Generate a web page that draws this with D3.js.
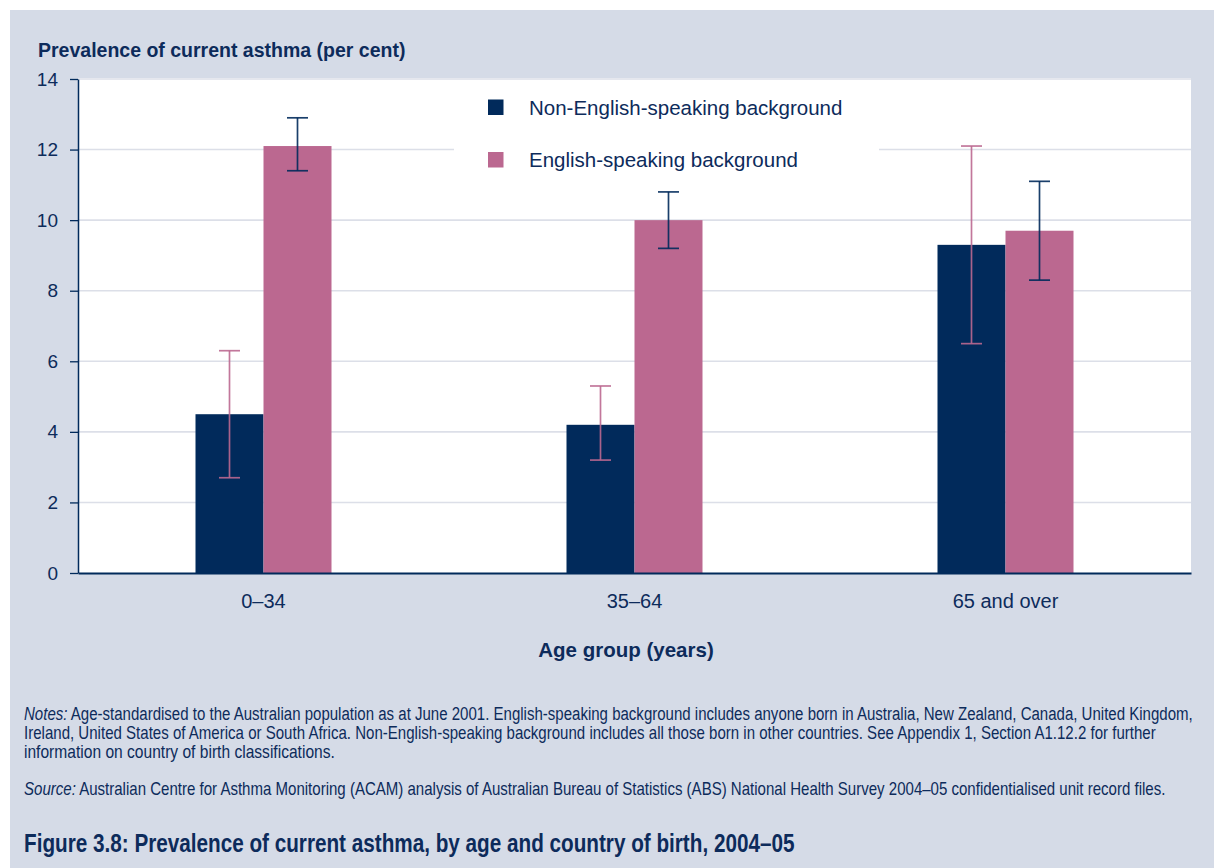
<!DOCTYPE html>
<html>
<head>
<meta charset="utf-8">
<script src="https://cdn.jsdelivr.net/npm/d3@7"></script>
<style>
  html, body { margin: 0; padding: 0; background: #ffffff; }
  svg { display: block; }
</style>
</head>
<body>
<svg id="chart" width="1214" height="868"></svg>
<script>
// Prevalence of current asthma by age group and country of birth, 2004–05
const categories = ["0–34", "35–64", "65 and over"];
const seriesNames = ["Non-English-speaking background", "English-speaking background"];
const nesbValues = [4.5, 4.2, 9.3];
const nesbLower  = [2.7, 3.2, 6.5];
const nesbUpper  = [6.3, 5.3, 12.1];
const esbValues  = [12.1, 10.0, 9.7];
const esbLower   = [11.4, 9.2, 8.3];
const esbUpper   = [12.9, 10.8, 11.1];
const yTicks = [0, 2, 4, 6, 8, 10, 12, 14];

const navy = "#012a5b";
const pink = "#bb6890";
const textCol = "#0d2b5b";
const panel = "#d5dbe7";
const gridCol = "#dcdfe8";
const sans = "'Liberation Sans', Arial, sans-serif";

const svg = d3.select("#chart");
const W = 1214, H = 868;
const plot = { left: 78, right: 1191, top: 79, bottom: 573 };

// background panel
svg.append("rect").attr("x", 10).attr("y", 10).attr("width", W - 10).attr("height", H - 10).attr("fill", panel);
// plot area
svg.append("rect").attr("x", plot.left).attr("y", plot.top - 1)
  .attr("width", plot.right - plot.left).attr("height", plot.bottom - plot.top + 1).attr("fill", "#ffffff");

const y = d3.scaleLinear().domain([0, 14]).range([plot.bottom, plot.top]);
const x0 = d3.scaleBand().domain(categories).range([plot.left, plot.right]).padding(0);
const barW = 68;
const x1 = d3.scaleBand().domain(seriesNames).range([0, 2 * barW]).padding(0);

// gridlines
svg.append("g").selectAll("line").data(yTicks.filter(t => t > 0)).join("line")
  .attr("x1", plot.left).attr("x2", plot.right)
  .attr("y1", d => y(d)).attr("y2", d => y(d))
  .attr("stroke", gridCol).attr("stroke-width", 1.6);

// legend background (covers the gridline behind it)
svg.append("rect").attr("x", 454).attr("y", 86).attr("width", 425).attr("height", 92).attr("fill", "#ffffff");

const rows = categories.map((c, i) => ({
  cat: c,
  bars: [
    { s: seriesNames[0], v: nesbValues[i], lo: nesbLower[i], hi: nesbUpper[i], fill: navy, err: pink },
    { s: seriesNames[1], v: esbValues[i], lo: esbLower[i], hi: esbUpper[i], fill: pink, err: navy }
  ]
}));

const groups = svg.append("g").selectAll("g").data(rows).join("g")
  .attr("transform", d => `translate(${x0(d.cat) + x0.bandwidth() / 2 - barW},0)`);

groups.selectAll("rect").data(d => d.bars).join("rect")
  .attr("x", d => x1(d.s)).attr("width", x1.bandwidth())
  .attr("y", d => y(d.v)).attr("height", d => y(0) - y(d.v))
  .attr("fill", d => d.fill);

// error bars
const capHalf = 10.5;
const eb = groups.selectAll("g.err").data(d => d.bars).join("g").attr("class", "err")
  .attr("stroke", d => d.err).attr("stroke-width", 1.7).attr("stroke-opacity", 0.9);
eb.append("line")
  .attr("x1", d => x1(d.s) + x1.bandwidth() / 2).attr("x2", d => x1(d.s) + x1.bandwidth() / 2)
  .attr("y1", d => y(d.lo)).attr("y2", d => y(d.hi));
eb.append("line")
  .attr("x1", d => x1(d.s) + x1.bandwidth() / 2 - capHalf).attr("x2", d => x1(d.s) + x1.bandwidth() / 2 + capHalf)
  .attr("y1", d => y(d.hi)).attr("y2", d => y(d.hi));
eb.append("line")
  .attr("x1", d => x1(d.s) + x1.bandwidth() / 2 - capHalf).attr("x2", d => x1(d.s) + x1.bandwidth() / 2 + capHalf)
  .attr("y1", d => y(d.lo)).attr("y2", d => y(d.lo));

// y axis
const yAxis = svg.append("g").attr("transform", `translate(${plot.left},0)`)
  .call(d3.axisLeft(y).tickValues(yTicks).tickSize(8).tickPadding(12).tickSizeOuter(0));
yAxis.select(".domain").attr("stroke", navy).attr("stroke-width", 1.5);
yAxis.selectAll(".tick line").attr("stroke", navy).attr("stroke-width", 1.3);
yAxis.selectAll(".tick text").attr("fill", textCol)
  .style("font-family", sans).style("font-size", "19px");

// x axis
const xAxis = svg.append("g").attr("transform", `translate(0,${plot.bottom})`)
  .call(d3.axisBottom(x0).tickSize(0).tickPadding(21).tickSizeOuter(0));
xAxis.select(".domain").attr("stroke", navy).attr("stroke-width", 2);
xAxis.selectAll(".tick text").attr("fill", textCol)
  .style("font-family", sans).style("font-size", "20px");

// axis titles
svg.append("text").attr("x", 38).attr("y", 57)
  .attr("fill", textCol).style("font-family", sans)
  .style("font-size", "19.5px").style("font-weight", "bold")
  .text("Prevalence of current asthma (per cent)");

svg.append("text").attr("x", 626).attr("y", 657).attr("text-anchor", "middle")
  .attr("fill", textCol).style("font-family", sans)
  .style("font-size", "20.5px").style("font-weight", "bold")
  .text("Age group (years)");

// legend
const legendColors = [navy, pink];
const lg = svg.append("g").selectAll("g").data(seriesNames).join("g")
  .attr("transform", (d, i) => `translate(488,${99.5 + i * 52.5})`);
lg.append("rect").attr("width", 15.5).attr("height", 15.5).attr("fill", (d, i) => legendColors[i]);
lg.append("text").attr("x", 41).attr("y", 15).attr("fill", textCol)
  .style("font-family", sans).style("font-size", "20.5px")
  .text(d => d);

// notes, source and figure caption, set in a horizontally condensed face
function condensedText(x, yPos, width, size, bold, parts) {
  const t = svg.append("text").attr("x", 0).attr("y", 0).attr("fill", textCol)
    .style("font-family", sans).style("font-size", size + "px")
    .style("font-weight", bold ? "bold" : "normal");
  parts.forEach(p => t.append("tspan").style("font-style", p.italic ? "italic" : "normal").text(p.text));
  const natural = t.node().getComputedTextLength();
  t.attr("transform", `translate(${x},${yPos}) scale(${width / natural},1)`);
  return t;
}

condensedText(24, 720, 1169, 18, false, [
  { italic: true, text: "Notes:" },
  { text: " Age-standardised to the Australian population as at June 2001. English-speaking background includes anyone born in Australia, New Zealand, Canada, United Kingdom," }
]);
condensedText(24, 739, 1133, 18, false, [
  { text: "Ireland, United States of America or South Africa. Non-English-speaking background includes all those born in other countries. See Appendix 1, Section A1.12.2 for further" }
]);
condensedText(24, 758, 311, 18, false, [
  { text: "information on country of birth classifications." }
]);
condensedText(24, 795, 1142, 18, false, [
  { italic: true, text: "Source:" },
  { text: " Australian Centre for Asthma Monitoring (ACAM) analysis of Australian Bureau of Statistics (ABS) National Health Survey 2004–05 confidentialised unit record files." }
]);
condensedText(24, 852, 771, 25, true, [
  { text: "Figure 3.8: Prevalence of current asthma, by age and country of birth, 2004–05" }
]);
</script>
</body>
</html>
